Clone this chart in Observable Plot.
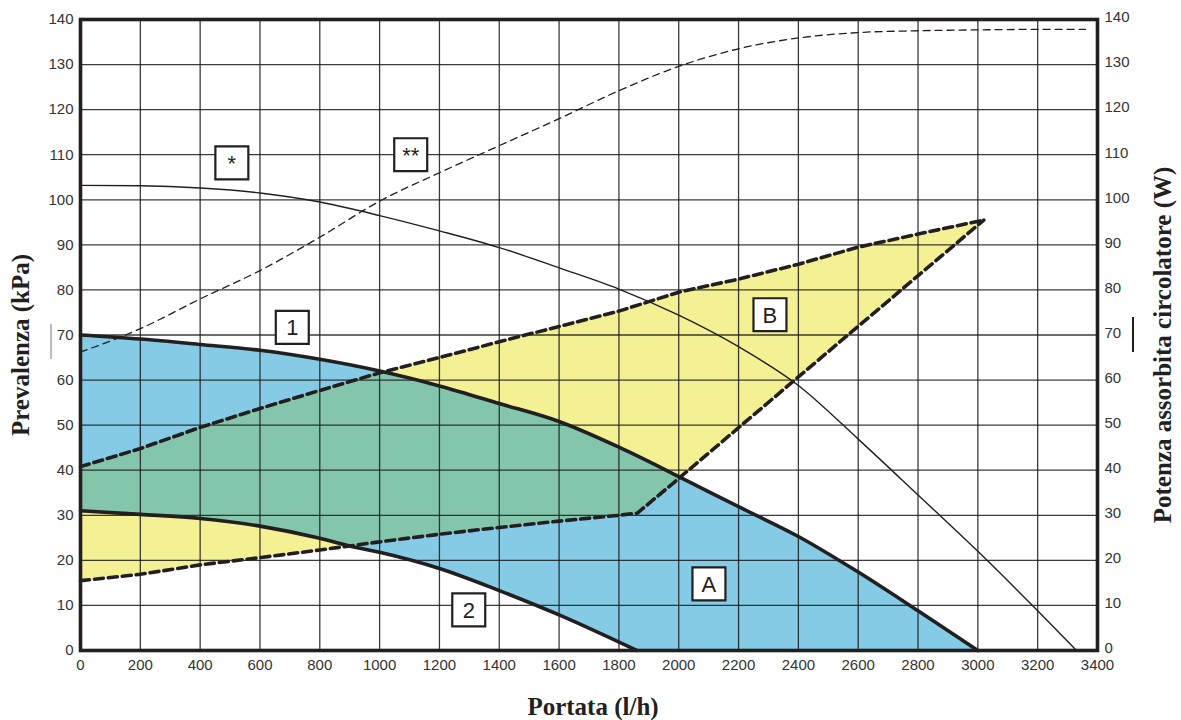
<!DOCTYPE html>
<html><head><meta charset="utf-8">
<script src="https://cdn.jsdelivr.net/npm/d3@7"></script>
<script src="https://cdn.jsdelivr.net/npm/@observablehq/plot@0.6"></script>
<style>
html,body{margin:0;padding:0;background:#fff;}
#chart{position:relative;width:1181px;height:720px;}
.mk{position:absolute;width:1.6px;}
</style></head><body>
<div id="chart"></div>
<script>
// ---- tick values ----
const xTicks = [0,200,400,600,800,1000,1200,1400,1600,1800,2000,2200,2400,2600,2800,3000,3200,3400];
const yTicks = [0,10,20,30,40,50,60,70,80,90,100,110,120,130,140];

// ---- curve 1 (max speed, prevalenza kPa) ----
const curve1X = [0,200,400,600,800,1000,1200,1400,1600,1800,2000,2200,2400,2600,2800,3000];
const curve1Y = [70,69.1,67.9,66.6,64.6,62.0,58.7,54.8,50.8,45.1,38.6,31.9,25.3,17.4,8.8,0];

// ---- curve 2 (min speed, prevalenza kPa) ----
const curve2X = [0,200,400,600,800,900,1000,1200,1400,1600,1860];
const curve2Y = [31.0,30.2,29.3,27.6,24.9,23.2,21.8,18.2,13.3,7.9,0];

// ---- field B: lower and upper dashed limits ----
const lowerBX = [0,200,400,600,800,1000,1200,1400,1600,1800,1862,2006,2400,3020];
const lowerBY = [15.5,16.9,19.0,20.6,22.3,24.1,25.8,27.3,28.7,30.0,30.5,38.5,60.7,95.5];
const upperBX = [0,200,400,600,800,1000,1200,1400,1600,1800,2000,2200,2400,2600,2800,3020];
const upperBY = [40.8,44.8,49.5,53.7,57.7,61.6,65.0,68.5,71.9,75.3,79.5,82.4,85.7,89.5,92.4,95.5];

// ---- curve * (prevalenza circolatore, kPa) ----
const starX = [0,200,400,600,800,1000,1200,1400,1600,1800,2000,2200,2400,2600,2800,3000,3200,3330];
const starY = [103.2,103.1,102.6,101.5,99.5,96.5,93.1,89.4,84.9,80.2,74.4,67.4,58.8,46.9,34.5,22.0,8.8,0];

// ---- curve ** (potenza assorbita circolatore, W) ----
const powX = [0,200,400,600,800,1000,1200,1400,1600,1800,2000,2200,2400,2600,2800,3000,3200,3360];
const powY = [66.2,71.4,78.0,84.3,91.7,99.7,106.0,112.0,118.0,124.2,129.6,133.5,135.9,137.1,137.5,137.7,137.8,137.8];

// ---- annotation labels ----
const labelText = ["*","**","1","2","A","B"];
const labelX = [506,1104,708,1298,2101,2305];
const labelY = [108.2,110.0,71.7,9.0,14.8,74.5];

// ---- build tables ----
const toRows = (xs, ys) => xs.map((x, i) => ({x, y: ys[i]}));
const c1 = toRows(curve1X, curve1Y);
const c2 = toRows(curve2X, curve2Y);
const lb = toRows(lowerBX, lowerBY);
const ub = toRows(upperBX, upperBY);
const star = toRows(starX, starY);
const pow = toRows(powX, powY);
const labels = labelText.map((t, i) => ({t, x: labelX[i], y: labelY[i]}));

const f = (xs, ys) => d3.scaleLinear().domain(xs).range(ys).clamp(true);
const f1 = f(curve1X, curve1Y), f2 = f(curve2X, curve2Y), fl = f(lowerBX, lowerBY), fu = f(upperBX, upperBY);

// evaluation grid for the filled regions (union of the data x positions and a fine step)
const gridXs = Array.from(new Set([...d3.range(0, 3021, 4), ...curve1X, ...curve2X, ...lowerBX, ...upperBX])).sort((a, b) => a - b);
const rows = gridXs.map(x => {
  const a1 = f1(x), a2 = f2(x), bl = fl(x), bu = fu(x);
  const g1 = Math.max(a2, bl), g2 = Math.min(a1, bu);
  return {x, a1, a2, bl, bu, g1, g2: Math.max(g1, g2)};
});
const rowsA = rows.filter(d => d.x <= 3000);
const rowsB = rows.filter(d => d.x <= 3020);
const rowsG = rows.filter(d => d.x <= 2010);

const blue = "#86cbe5", yellow = "#f4f194", green = "#84c6ab", ink = "#231f20";
const serif = "'Liberation Serif', 'Times New Roman', serif";

const chart = Plot.plot({
  width: 1181, height: 720,
  marginLeft: 80, marginRight: 84, marginTop: 19, marginBottom: 70,
  x: {domain: [0, 3400]},
  y: {domain: [0, 140]},
  style: {fontFamily: "'Liberation Sans', Arial, sans-serif", fontSize: "15px", color: "#333", background: "white"},
  marks: [
    Plot.areaY(rowsB, {x: "x", y1: "bl", y2: "bu", fill: yellow}),
    Plot.areaY(rowsA, {x: "x", y1: "a2", y2: "a1", fill: blue}),
    Plot.areaY(rowsG, {x: "x", y1: "g1", y2: "g2", fill: green}),
    Plot.gridX(xTicks, {stroke: "#1a1a1a", strokeOpacity: 0.85, strokeWidth: 1.3}),
    Plot.gridY(yTicks, {stroke: "#1a1a1a", strokeOpacity: 0.85, strokeWidth: 1.3}),
    Plot.line(star, {x: "x", y: "y", stroke: ink, strokeWidth: 1.4, curve: "monotone-x"}),
    Plot.line(pow, {x: "x", y: "y", stroke: ink, strokeWidth: 1.3, strokeDasharray: "7,5", curve: "monotone-x"}),
    Plot.line(lb, {x: "x", y: "y", stroke: ink, strokeWidth: 3.6, strokeDasharray: "9,5", strokeLinecap: "round", strokeLinejoin: "round"}),
    Plot.line(ub, {x: "x", y: "y", stroke: ink, strokeWidth: 3.6, strokeDasharray: "9,5", strokeLinecap: "round", strokeLinejoin: "round"}),
    Plot.line(c1, {x: "x", y: "y", stroke: ink, strokeWidth: 3.6, strokeLinejoin: "round", curve: "monotone-x"}),
    Plot.line(c2, {x: "x", y: "y", stroke: ink, strokeWidth: 3.6, strokeLinejoin: "round", curve: "monotone-x"}),
    Plot.frame({stroke: ink, strokeWidth: 3.6}),
    Plot.axisX(xTicks, {anchor: "bottom", tickSize: 0, tickPadding: 9, label: null, fill: "#333", tickFormat: d => String(d)}),
    Plot.axisY(yTicks, {anchor: "left", tickSize: 0, tickPadding: 7, label: null, fill: "#333"}),
    Plot.axisY(yTicks, {anchor: "right", tickSize: 0, tickPadding: 7, label: null, fill: "#333", dy: -2}),
    Plot.dot(labels, {x: "x", y: "y", symbol: "square", r: 18.6, fill: "white", stroke: ink, strokeWidth: 2.2}),
    Plot.text(labels, {x: "x", y: "y", text: "t", fontSize: 22, fill: ink, dy: 1}),
    Plot.text(["Portata (l/h)"], {frameAnchor: "bottom", textAnchor: "middle", dy: 64, dx: 4, fontFamily: serif, fontWeight: "bold", fontSize: 25, fill: ink}),
    Plot.text(["Prevalenza (kPa)"], {frameAnchor: "left", textAnchor: "middle", lineAnchor: "middle", dx: -60, dy: 10, rotate: -90, fontFamily: serif, fontWeight: "bold", fontSize: 25, fill: ink}),
    Plot.text(["Potenza assorbita circolatore (W)"], {frameAnchor: "right", textAnchor: "middle", lineAnchor: "middle", dx: 65, dy: 10, rotate: -90, fontFamily: serif, fontWeight: "bold", fontSize: 25, fill: ink})
  ]
});
const host = document.getElementById("chart");
host.appendChild(chart);
const m1 = document.createElement("div"); m1.className = "mk";
Object.assign(m1.style, {left: "50px", top: "324px", height: "35px", background: "#bbb"});
const m2 = document.createElement("div"); m2.className = "mk";
Object.assign(m2.style, {left: "1132px", top: "317px", height: "35px", background: ink});
host.appendChild(m1); host.appendChild(m2);
</script>
</body></html>
